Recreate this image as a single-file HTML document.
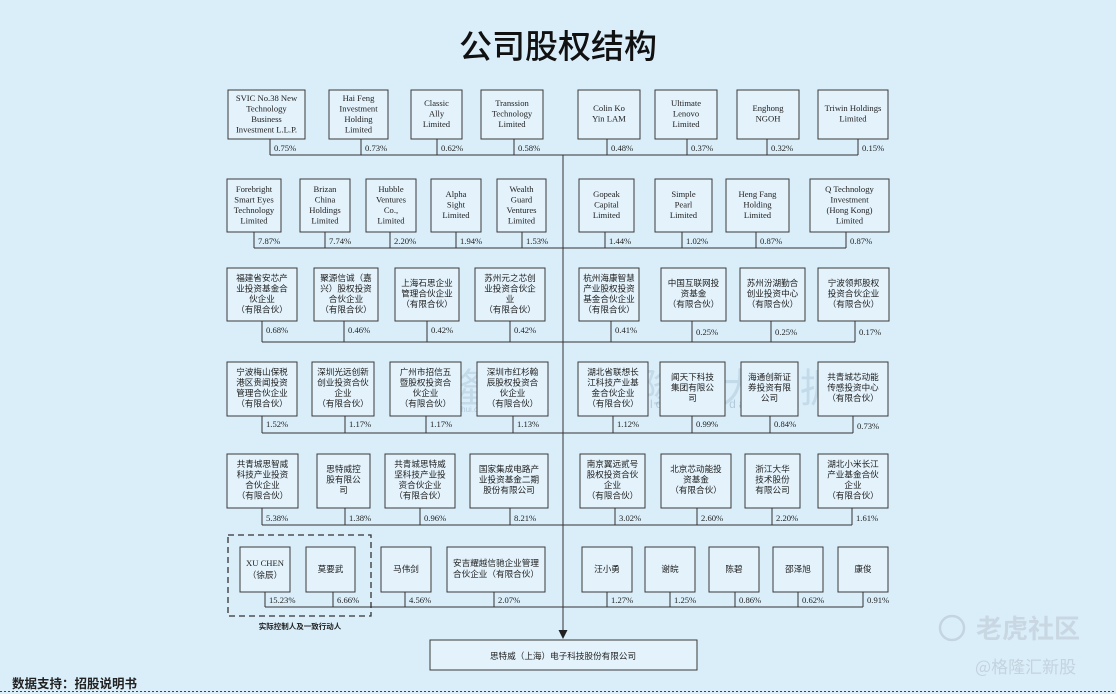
<!DOCTYPE html>
<html><head><meta charset="utf-8"><style>
html,body{margin:0;padding:0;background:#daeefa;}
svg{display:block}
.b{fill:#e3f2fb;stroke:#3a3a3a;stroke-width:1}
.l{stroke:#333;stroke-width:1;fill:none}
.e{font-family:"Liberation Serif",serif;font-size:8.6px;fill:#222;text-anchor:middle}
.c{font-family:"Liberation Sans","Noto Sans CJK SC",sans-serif;font-size:8.6px;fill:#222;text-anchor:middle}
.p{font-family:"Liberation Serif",serif;font-size:8.6px;fill:#222}
</style></head><body>
<svg width="1116" height="694" viewBox="0 0 1116 694" xmlns="http://www.w3.org/2000/svg">
<rect width="1116" height="694" fill="#daeefa"/>
<text x="558" y="58" text-anchor="middle" font-family="Liberation Sans,'Noto Sans CJK SC',sans-serif" font-size="33" font-weight="500" fill="#111">公司股权结构</text>

<!-- watermarks -->
<text x="405" y="402" font-family="'Noto Sans CJK SC',sans-serif" font-size="40" fill="#9ab6cc" opacity="0.35">格隆汇</text>
<text x="600" y="402" font-family="'Noto Sans CJK SC',sans-serif" font-size="40" fill="#9ab6cc" opacity="0.35">格隆汇大数据</text>
<text x="418" y="412" font-family="Liberation Sans,sans-serif" font-size="8" fill="#8aa8be" opacity="0.5">www.gelonghui.com</text>
<text x="590" y="408" font-family="Liberation Sans,sans-serif" font-size="12" fill="#8aa8be" opacity="0.5" letter-spacing="3">www.gelonghuigudata.com</text>

<!-- central line and arrow -->
<line class="l" x1="563" y1="155" x2="563" y2="632"/>
<polygon points="558.5,630 567.5,630 563,639" fill="#222"/>
<rect class="b" x="430" y="640" width="267" height="30"/>
<text x="563" y="659" class="c" font-size="11.5">思特威（上海）电子科技股份有限公司</text>

<!-- Row 1 -->
<line class="l" x1="270" y1="155" x2="858" y2="155"/>
<g>
<rect class="b" x="228" y="90" width="77" height="49"/><text class="e" x="266.5"><tspan x="266.5" y="101">SVIC No.38 New</tspan><tspan x="266.5" y="111.5">Technology</tspan><tspan x="266.5" y="122">Business</tspan><tspan x="266.5" y="132.5">Investment L.L.P.</tspan></text>
<line class="l" x1="270" y1="139" x2="270" y2="155"/><text class="p" x="274" y="151">0.75%</text>
<rect class="b" x="329" y="90" width="59" height="49"/><text class="e"><tspan x="358.5" y="101">Hai Feng</tspan><tspan x="358.5" y="111.5">Investment</tspan><tspan x="358.5" y="122">Holding</tspan><tspan x="358.5" y="132.5">Limited</tspan></text>
<line class="l" x1="361" y1="139" x2="361" y2="155"/><text class="p" x="365" y="151">0.73%</text>
<rect class="b" x="411" y="90" width="51" height="49"/><text class="e"><tspan x="436.5" y="106">Classic</tspan><tspan x="436.5" y="116.5">Ally</tspan><tspan x="436.5" y="127">Limited</tspan></text>
<line class="l" x1="437" y1="139" x2="437" y2="155"/><text class="p" x="441" y="151">0.62%</text>
<rect class="b" x="481" y="90" width="62" height="49"/><text class="e"><tspan x="512" y="106">Transsion</tspan><tspan x="512" y="116.5">Technology</tspan><tspan x="512" y="127">Limited</tspan></text>
<line class="l" x1="514" y1="139" x2="514" y2="155"/><text class="p" x="518" y="151">0.58%</text>
<rect class="b" x="578" y="90" width="62" height="49"/><text class="e"><tspan x="609" y="111">Colin Ko</tspan><tspan x="609" y="121.5">Yin LAM</tspan></text>
<line class="l" x1="607" y1="139" x2="607" y2="155"/><text class="p" x="611" y="151">0.48%</text>
<rect class="b" x="655" y="90" width="62" height="49"/><text class="e"><tspan x="686" y="106">Ultimate</tspan><tspan x="686" y="116.5">Lenovo</tspan><tspan x="686" y="127">Limited</tspan></text>
<line class="l" x1="687" y1="139" x2="687" y2="155"/><text class="p" x="691" y="151">0.37%</text>
<rect class="b" x="737" y="90" width="62" height="49"/><text class="e"><tspan x="768" y="111">Enghong</tspan><tspan x="768" y="121.5">NGOH</tspan></text>
<line class="l" x1="767" y1="139" x2="767" y2="155"/><text class="p" x="771" y="151">0.32%</text>
<rect class="b" x="818" y="90" width="70" height="49"/><text class="e"><tspan x="853" y="111">Triwin Holdings</tspan><tspan x="853" y="121.5">Limited</tspan></text>
<line class="l" x1="858" y1="139" x2="858" y2="155"/><text class="p" x="862" y="151">0.15%</text>
</g>

<!-- Row 2 -->
<line class="l" x1="254" y1="248" x2="846" y2="248"/>
<g>
<rect class="b" x="227" y="179" width="54" height="53"/><text class="e"><tspan x="254" y="192">Forebright</tspan><tspan x="254" y="202.5">Smart Eyes</tspan><tspan x="254" y="213">Technology</tspan><tspan x="254" y="223.5">Limited</tspan></text>
<line class="l" x1="254" y1="232" x2="254" y2="248"/><text class="p" x="258" y="244">7.87%</text>
<rect class="b" x="300" y="179" width="50" height="53"/><text class="e"><tspan x="325" y="192">Brizan</tspan><tspan x="325" y="202.5">China</tspan><tspan x="325" y="213">Holdings</tspan><tspan x="325" y="223.5">Limited</tspan></text>
<line class="l" x1="325" y1="232" x2="325" y2="248"/><text class="p" x="329" y="244">7.74%</text>
<rect class="b" x="366" y="179" width="50" height="53"/><text class="e"><tspan x="391" y="192">Hubble</tspan><tspan x="391" y="202.5">Ventures</tspan><tspan x="391" y="213">Co.,</tspan><tspan x="391" y="223.5">Limited</tspan></text>
<line class="l" x1="390" y1="232" x2="390" y2="248"/><text class="p" x="394" y="244">2.20%</text>
<rect class="b" x="431" y="179" width="50" height="53"/><text class="e"><tspan x="456" y="197">Alpha</tspan><tspan x="456" y="207.5">Sight</tspan><tspan x="456" y="218">Limited</tspan></text>
<line class="l" x1="456" y1="232" x2="456" y2="248"/><text class="p" x="460" y="244">1.94%</text>
<rect class="b" x="497" y="179" width="49" height="53"/><text class="e"><tspan x="521.5" y="192">Wealth</tspan><tspan x="521.5" y="202.5">Guard</tspan><tspan x="521.5" y="213">Ventures</tspan><tspan x="521.5" y="223.5">Limited</tspan></text>
<line class="l" x1="522" y1="232" x2="522" y2="248"/><text class="p" x="526" y="244">1.53%</text>
<rect class="b" x="579" y="179" width="55" height="53"/><text class="e"><tspan x="606.5" y="197">Gopeak</tspan><tspan x="606.5" y="207.5">Capital</tspan><tspan x="606.5" y="218">Limited</tspan></text>
<line class="l" x1="605" y1="232" x2="605" y2="248"/><text class="p" x="609" y="244">1.44%</text>
<rect class="b" x="655" y="179" width="57" height="53"/><text class="e"><tspan x="683.5" y="197">Simple</tspan><tspan x="683.5" y="207.5">Pearl</tspan><tspan x="683.5" y="218">Limited</tspan></text>
<line class="l" x1="682" y1="232" x2="682" y2="248"/><text class="p" x="686" y="244">1.02%</text>
<rect class="b" x="726" y="179" width="63" height="53"/><text class="e"><tspan x="757.5" y="197">Heng Fang</tspan><tspan x="757.5" y="207.5">Holding</tspan><tspan x="757.5" y="218">Limited</tspan></text>
<line class="l" x1="756" y1="232" x2="756" y2="248"/><text class="p" x="760" y="244">0.87%</text>
<rect class="b" x="810" y="179" width="79" height="53"/><text class="e"><tspan x="849.5" y="192">Q Technology</tspan><tspan x="849.5" y="202.5">Investment</tspan><tspan x="849.5" y="213">(Hong Kong)</tspan><tspan x="849.5" y="223.5">Limited</tspan></text>
<line class="l" x1="846" y1="232" x2="846" y2="248"/><text class="p" x="850" y="244">0.87%</text>
</g>

<!-- Row 3 -->
<line class="l" x1="262" y1="342" x2="855" y2="342"/>
<g>
<rect class="b" x="227" y="268" width="70" height="53"/><text class="c"><tspan x="262" y="281">福建省安芯产</tspan><tspan x="262" y="291.5">业投资基金合</tspan><tspan x="262" y="302">伙企业</tspan><tspan x="262" y="312.5">（有限合伙）</tspan></text>
<line class="l" x1="262" y1="321" x2="262" y2="342"/><text class="p" x="266" y="333">0.68%</text>
<rect class="b" x="314" y="268" width="64" height="53"/><text class="c"><tspan x="346" y="281">聚源信诚（嘉</tspan><tspan x="346" y="291.5">兴）股权投资</tspan><tspan x="346" y="302">合伙企业</tspan><tspan x="346" y="312.5">（有限合伙）</tspan></text>
<line class="l" x1="344" y1="321" x2="344" y2="342"/><text class="p" x="348" y="333">0.46%</text>
<rect class="b" x="395" y="268" width="64" height="53"/><text class="c"><tspan x="427" y="286">上海石思企业</tspan><tspan x="427" y="296.5">管理合伙企业</tspan><tspan x="427" y="307">（有限合伙）</tspan></text>
<line class="l" x1="427" y1="321" x2="427" y2="342"/><text class="p" x="431" y="333">0.42%</text>
<rect class="b" x="475" y="268" width="70" height="53"/><text class="c"><tspan x="510" y="281">苏州元之芯创</tspan><tspan x="510" y="291.5">业投资合伙企</tspan><tspan x="510" y="302">业</tspan><tspan x="510" y="312.5">（有限合伙）</tspan></text>
<line class="l" x1="510" y1="321" x2="510" y2="342"/><text class="p" x="514" y="333">0.42%</text>
<rect class="b" x="579" y="268" width="60" height="53"/><text class="c"><tspan x="609" y="281">杭州海康智慧</tspan><tspan x="609" y="291.5">产业股权投资</tspan><tspan x="609" y="302">基金合伙企业</tspan><tspan x="609" y="312.5">（有限合伙）</tspan></text>
<line class="l" x1="611" y1="321" x2="611" y2="342"/><text class="p" x="615" y="333">0.41%</text>
<rect class="b" x="661" y="268" width="65" height="53"/><text class="c"><tspan x="693.5" y="286">中国互联网投</tspan><tspan x="693.5" y="296.5">资基金</tspan><tspan x="693.5" y="307">（有限合伙）</tspan></text>
<line class="l" x1="692" y1="321" x2="692" y2="342"/><text class="p" x="696" y="335">0.25%</text>
<rect class="b" x="740" y="268" width="65" height="53"/><text class="c"><tspan x="772.5" y="286">苏州汾湖勤合</tspan><tspan x="772.5" y="296.5">创业投资中心</tspan><tspan x="772.5" y="307">（有限合伙）</tspan></text>
<line class="l" x1="771" y1="321" x2="771" y2="342"/><text class="p" x="775" y="335">0.25%</text>
<rect class="b" x="818" y="268" width="71" height="53"/><text class="c"><tspan x="853.5" y="286">宁波领邦股权</tspan><tspan x="853.5" y="296.5">投资合伙企业</tspan><tspan x="853.5" y="307">（有限合伙）</tspan></text>
<line class="l" x1="855" y1="321" x2="855" y2="342"/><text class="p" x="859" y="335">0.17%</text>
</g>

<!-- Row 4 -->
<line class="l" x1="262" y1="433" x2="853" y2="433"/>
<g>
<rect class="b" x="227" y="362" width="70" height="54"/><text class="c"><tspan x="262" y="375">宁波梅山保税</tspan><tspan x="262" y="385.5">港区贵闻投资</tspan><tspan x="262" y="396">管理合伙企业</tspan><tspan x="262" y="406.5">（有限合伙）</tspan></text>
<line class="l" x1="262" y1="416" x2="262" y2="433"/><text class="p" x="266" y="427">1.52%</text>
<rect class="b" x="312" y="362" width="62" height="54"/><text class="c"><tspan x="343" y="375">深圳光远创新</tspan><tspan x="343" y="385.5">创业投资合伙</tspan><tspan x="343" y="396">企业</tspan><tspan x="343" y="406.5">（有限合伙）</tspan></text>
<line class="l" x1="345" y1="416" x2="345" y2="433"/><text class="p" x="349" y="427">1.17%</text>
<rect class="b" x="390" y="362" width="71" height="54"/><text class="c"><tspan x="425.5" y="375">广州市招信五</tspan><tspan x="425.5" y="385.5">暨股权投资合</tspan><tspan x="425.5" y="396">伙企业</tspan><tspan x="425.5" y="406.5">（有限合伙）</tspan></text>
<line class="l" x1="426" y1="416" x2="426" y2="433"/><text class="p" x="430" y="427">1.17%</text>
<rect class="b" x="477" y="362" width="71" height="54"/><text class="c"><tspan x="512.5" y="375">深圳市红杉翰</tspan><tspan x="512.5" y="385.5">辰股权投资合</tspan><tspan x="512.5" y="396">伙企业</tspan><tspan x="512.5" y="406.5">（有限合伙）</tspan></text>
<line class="l" x1="513" y1="416" x2="513" y2="433"/><text class="p" x="517" y="427">1.13%</text>
<rect class="b" x="578" y="362" width="70" height="54"/><text class="c"><tspan x="613" y="375">湖北省联想长</tspan><tspan x="613" y="385.5">江科技产业基</tspan><tspan x="613" y="396">金合伙企业</tspan><tspan x="613" y="406.5">（有限合伙）</tspan></text>
<line class="l" x1="613" y1="416" x2="613" y2="433"/><text class="p" x="617" y="427">1.12%</text>
<rect class="b" x="660" y="362" width="65" height="54"/><text class="c"><tspan x="692.5" y="380">闻天下科技</tspan><tspan x="692.5" y="390.5">集团有限公</tspan><tspan x="692.5" y="401">司</tspan></text>
<line class="l" x1="692" y1="416" x2="692" y2="433"/><text class="p" x="696" y="427">0.99%</text>
<rect class="b" x="741" y="362" width="57" height="54"/><text class="c"><tspan x="769.5" y="380">海通创新证</tspan><tspan x="769.5" y="390.5">券投资有限</tspan><tspan x="769.5" y="401">公司</tspan></text>
<line class="l" x1="770" y1="416" x2="770" y2="433"/><text class="p" x="774" y="427">0.84%</text>
<rect class="b" x="818" y="362" width="70" height="54"/><text class="c"><tspan x="853" y="380">共青城芯动能</tspan><tspan x="853" y="390.5">传感投资中心</tspan><tspan x="853" y="401">（有限合伙）</tspan></text>
<line class="l" x1="853" y1="416" x2="853" y2="433"/><text class="p" x="857" y="429">0.73%</text>
</g>

<!-- Row 5 -->
<line class="l" x1="262" y1="525" x2="852" y2="525"/>
<g>
<rect class="b" x="227" y="454" width="71" height="54"/><text class="c"><tspan x="262.5" y="467">共青城思智威</tspan><tspan x="262.5" y="477.5">科技产业投资</tspan><tspan x="262.5" y="488">合伙企业</tspan><tspan x="262.5" y="498.5">（有限合伙）</tspan></text>
<line class="l" x1="262" y1="508" x2="262" y2="525"/><text class="p" x="266" y="521">5.38%</text>
<rect class="b" x="317" y="454" width="53" height="54"/><text class="c"><tspan x="343.5" y="472">思特威控</tspan><tspan x="343.5" y="482.5">股有限公</tspan><tspan x="343.5" y="493">司</tspan></text>
<line class="l" x1="345" y1="508" x2="345" y2="525"/><text class="p" x="349" y="521">1.38%</text>
<rect class="b" x="385" y="454" width="70" height="54"/><text class="c"><tspan x="420" y="467">共青城思特威</tspan><tspan x="420" y="477.5">坚科技产业投</tspan><tspan x="420" y="488">资合伙企业</tspan><tspan x="420" y="498.5">（有限合伙）</tspan></text>
<line class="l" x1="420" y1="508" x2="420" y2="525"/><text class="p" x="424" y="521">0.96%</text>
<rect class="b" x="470" y="454" width="78" height="54"/><text class="c"><tspan x="509" y="472">国家集成电路产</tspan><tspan x="509" y="482.5">业投资基金二期</tspan><tspan x="509" y="493">股份有限公司</tspan></text>
<line class="l" x1="510" y1="508" x2="510" y2="525"/><text class="p" x="514" y="521">8.21%</text>
<rect class="b" x="580" y="454" width="65" height="54"/><text class="c"><tspan x="612.5" y="467">南京翼远贰号</tspan><tspan x="612.5" y="477.5">股权投资合伙</tspan><tspan x="612.5" y="488">企业</tspan><tspan x="612.5" y="498.5">（有限合伙）</tspan></text>
<line class="l" x1="615" y1="508" x2="615" y2="525"/><text class="p" x="619" y="521">3.02%</text>
<rect class="b" x="661" y="454" width="70" height="54"/><text class="c"><tspan x="696" y="472">北京芯动能投</tspan><tspan x="696" y="482.5">资基金</tspan><tspan x="696" y="493">（有限合伙）</tspan></text>
<line class="l" x1="697" y1="508" x2="697" y2="525"/><text class="p" x="701" y="521">2.60%</text>
<rect class="b" x="745" y="454" width="55" height="54"/><text class="c"><tspan x="772.5" y="472">浙江大华</tspan><tspan x="772.5" y="482.5">技术股份</tspan><tspan x="772.5" y="493">有限公司</tspan></text>
<line class="l" x1="772" y1="508" x2="772" y2="525"/><text class="p" x="776" y="521">2.20%</text>
<rect class="b" x="818" y="454" width="70" height="54"/><text class="c"><tspan x="853" y="467">湖北小米长江</tspan><tspan x="853" y="477.5">产业基金合伙</tspan><tspan x="853" y="488">企业</tspan><tspan x="853" y="498.5">（有限合伙）</tspan></text>
<line class="l" x1="852" y1="508" x2="852" y2="525"/><text class="p" x="856" y="521">1.61%</text>
</g>

<!-- Row 6 -->
<rect x="228" y="535" width="143" height="81" fill="none" stroke="#333" stroke-width="1.3" stroke-dasharray="6,4"/>
<text x="300" y="629" text-anchor="middle" font-family="Liberation Sans,'Noto Sans CJK SC',sans-serif" font-size="7.5" font-weight="bold" fill="#222">实际控制人及一致行动人</text>
<line class="l" x1="265" y1="607" x2="863" y2="607"/>
<g>
<rect class="b" x="240" y="547" width="50" height="45"/><text class="e"><tspan x="265" y="566">XU CHEN</tspan><tspan x="265" y="578" font-family="Liberation Sans,'Noto Sans CJK SC',sans-serif">（徐辰）</tspan></text>
<line class="l" x1="265" y1="592" x2="265" y2="607"/><text class="p" x="269" y="603">15.23%</text>
<rect class="b" x="306" y="547" width="49" height="45"/><text class="c" x="330.5" y="572">莫要武</text>
<line class="l" x1="333" y1="592" x2="333" y2="607"/><text class="p" x="337" y="603">6.66%</text>
<rect class="b" x="381" y="547" width="50" height="45"/><text class="c" x="406" y="572">马伟剑</text>
<line class="l" x1="405" y1="592" x2="405" y2="607"/><text class="p" x="409" y="603">4.56%</text>
<rect class="b" x="447" y="547" width="98" height="45"/><text class="c"><tspan x="496" y="566">安吉耀越信驰企业管理</tspan><tspan x="496" y="577">合伙企业（有限合伙）</tspan></text>
<line class="l" x1="494" y1="592" x2="494" y2="607"/><text class="p" x="498" y="603">2.07%</text>
<rect class="b" x="582" y="547" width="50" height="45"/><text class="c" x="607" y="572">汪小勇</text>
<line class="l" x1="607" y1="592" x2="607" y2="607"/><text class="p" x="611" y="603">1.27%</text>
<rect class="b" x="645" y="547" width="50" height="45"/><text class="c" x="670" y="572">谢皖</text>
<line class="l" x1="670" y1="592" x2="670" y2="607"/><text class="p" x="674" y="603">1.25%</text>
<rect class="b" x="709" y="547" width="50" height="45"/><text class="c" x="734" y="572">陈碧</text>
<line class="l" x1="735" y1="592" x2="735" y2="607"/><text class="p" x="739" y="603">0.86%</text>
<rect class="b" x="773" y="547" width="50" height="45"/><text class="c" x="798" y="572">邵泽旭</text>
<line class="l" x1="798" y1="592" x2="798" y2="607"/><text class="p" x="802" y="603">0.62%</text>
<rect class="b" x="838" y="547" width="50" height="45"/><text class="c" x="863" y="572">康俊</text>
<line class="l" x1="863" y1="592" x2="863" y2="607"/><text class="p" x="867" y="603">0.91%</text>
</g>

<!-- footer -->
<text x="12" y="688" font-family="Liberation Sans,'Noto Sans CJK SC',sans-serif" font-size="12.5" font-weight="bold" fill="#222">数据支持：招股说明书</text>
<line x1="0" y1="691.5" x2="1116" y2="691.5" stroke="#444" stroke-width="1" stroke-dasharray="2,2"/>
<circle cx="952" cy="628" r="12" fill="none" stroke="#c4d4e0" stroke-width="2.5"/>
<text x="976" y="638" font-family="'Noto Sans CJK SC',sans-serif" font-size="26" font-weight="bold" fill="#c9d7e2">老虎社区</text>
<text x="975" y="673" font-family="'Noto Sans CJK SC',sans-serif" font-size="17" fill="#c4d3de">@格隆汇新股</text>
</svg>
</body></html>
